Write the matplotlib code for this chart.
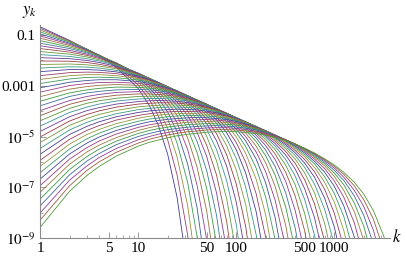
import colorsys
import numpy as np
import matplotlib
matplotlib.use("Agg")
import matplotlib.pyplot as plt
from matplotlib.ticker import FixedLocator, NullFormatter

# k values where each curve was read (shared grid)
k_grid = [1, 2, 3, 4, 6, 10, 13, 16, 20, 25, 32, 40, 50, 63, 80, 100, 125, 160,
          200, 250, 320, 400, 500, 630, 800, 1000, 1250, 1600, 2000, 2500, 3200, 4000]

# log10(y_k), top curve first; each list runs along k_grid
# until the curve leaves the bottom of the plot
log_y_curves = [
    [-0.67, -1.21, -1.56, -1.82, -2.27, -3.10, -3.77, -4.53, -5.69, -7.41, -10.3],
    [-0.73, -1.23, -1.55, -1.80, -2.22, -2.96, -3.53, -4.17, -5.12, -6.52, -8.88, -12.2],
    [-0.80, -1.25, -1.55, -1.79, -2.18, -2.84, -3.34, -3.88, -4.67, -5.81, -7.72, -10.4],
    [-0.87, -1.28, -1.56, -1.79, -2.15, -2.75, -3.19, -3.65, -4.31, -5.26, -6.81, -8.96, -12.2],
    [-0.95, -1.32, -1.58, -1.79, -2.13, -2.68, -3.07, -3.47, -4.03, -4.81, -6.08, -7.82, -10.5],
    [-1.03, -1.36, -1.60, -1.79, -2.11, -2.63, -2.98, -3.32, -3.80, -4.46, -5.51, -6.93, -9.05, -12.4],
    [-1.12, -1.41, -1.62, -1.80, -2.10, -2.58, -2.90, -3.21, -3.63, -4.18, -5.05, -6.22, -7.93, -10.6],
    [-1.22, -1.47, -1.66, -1.82, -2.10, -2.55, -2.84, -3.12, -3.48, -3.96, -4.69, -5.64, -7.04, -9.21, -12.7],
    [-1.32, -1.53, -1.70, -1.85, -2.11, -2.53, -2.79, -3.04, -3.37, -3.78, -4.40, -5.20, -6.34, -8.10, -10.9],
    [-1.42, -1.60, -1.75, -1.88, -2.12, -2.51, -2.76, -2.99, -3.28, -3.64, -4.17, -4.84, -5.78, -7.21, -9.48, -12.7],
    [-1.53, -1.67, -1.80, -1.92, -2.14, -2.50, -2.73, -2.94, -3.21, -3.53, -3.99, -4.55, -5.34, -6.51, -8.35, -11.0],
    [-1.65, -1.75, -1.86, -1.97, -2.16, -2.50, -2.71, -2.91, -3.15, -3.45, -3.85, -4.33, -4.99, -5.95, -7.45, -9.57, -12.8],
    [-1.77, -1.84, -1.93, -2.02, -2.19, -2.50, -2.70, -2.89, -3.11, -3.38, -3.73, -4.15, -4.71, -5.51, -6.74, -8.45, -11.0],
    [-1.89, -1.93, -2.00, -2.08, -2.23, -2.51, -2.70, -2.87, -3.08, -3.32, -3.64, -4.01, -4.49, -5.16, -6.17, -7.57, -9.66, -13.2],
    [-2.02, -2.03, -2.08, -2.15, -2.28, -2.53, -2.70, -2.86, -3.05, -3.28, -3.57, -3.90, -4.31, -4.88, -5.72, -6.86, -8.55, -11.4],
    [-2.16, -2.14, -2.17, -2.22, -2.33, -2.55, -2.71, -2.86, -3.04, -3.25, -3.52, -3.81, -4.17, -4.66, -5.36, -6.31, -7.68, -10.0],
    [-2.30, -2.25, -2.26, -2.30, -2.39, -2.58, -2.72, -2.86, -3.03, -3.22, -3.47, -3.74, -4.06, -4.48, -5.08, -5.86, -6.99, -8.88, -11.5],
    [-2.44, -2.36, -2.36, -2.38, -2.45, -2.62, -2.75, -2.87, -3.03, -3.21, -3.44, -3.68, -3.97, -4.34, -4.85, -5.51, -6.44, -7.97, -10.1],
    [-2.60, -2.48, -2.46, -2.47, -2.52, -2.66, -2.77, -2.89, -3.03, -3.20, -3.41, -3.64, -3.90, -4.23, -4.68, -5.23, -6.01, -7.26, -8.98, -11.6],
    [-2.75, -2.60, -2.56, -2.56, -2.60, -2.71, -2.81, -2.91, -3.04, -3.20, -3.40, -3.61, -3.85, -4.15, -4.53, -5.01, -5.66, -6.69, -8.09, -10.2],
    [-2.91, -2.73, -2.67, -2.66, -2.68, -2.77, -2.85, -2.94, -3.06, -3.20, -3.39, -3.58, -3.81, -4.08, -4.42, -4.84, -5.39, -6.25, -7.39, -9.08, -12.0],
    [-3.08, -2.86, -2.79, -2.76, -2.76, -2.83, -2.90, -2.98, -3.08, -3.21, -3.38, -3.57, -3.77, -4.02, -4.33, -4.70, -5.17, -5.89, -6.83, -8.21, -10.5],
    [-3.25, -2.99, -2.91, -2.87, -2.86, -2.90, -2.96, -3.02, -3.12, -3.23, -3.39, -3.56, -3.75, -3.98, -4.26, -4.59, -5.00, -5.61, -6.39, -7.52, -9.39, -12.0],
    [-3.43, -3.13, -3.03, -2.98, -2.95, -2.98, -3.02, -3.07, -3.15, -3.26, -3.40, -3.55, -3.73, -3.95, -4.21, -4.50, -4.86, -5.38, -6.04, -6.97, -8.50, -10.6],
    [-3.61, -3.28, -3.16, -3.10, -3.05, -3.06, -3.09, -3.13, -3.20, -3.29, -3.41, -3.56, -3.72, -3.92, -4.16, -4.43, -4.75, -5.20, -5.76, -6.53, -7.78, -9.49, -12.1],
    [-3.79, -3.42, -3.28, -3.22, -3.16, -3.14, -3.16, -3.19, -3.25, -3.33, -3.44, -3.57, -3.72, -3.91, -4.13, -4.37, -4.66, -5.06, -5.54, -6.19, -7.22, -8.61, -10.7],
    [-3.98, -3.58, -3.42, -3.34, -3.26, -3.23, -3.24, -3.26, -3.31, -3.37, -3.47, -3.59, -3.73, -3.90, -4.11, -4.33, -4.59, -4.95, -5.36, -5.91, -6.77, -7.92, -9.60, -12.2],
    [-4.18, -3.73, -3.56, -3.46, -3.37, -3.32, -3.32, -3.34, -3.37, -3.42, -3.51, -3.61, -3.74, -3.90, -4.09, -4.30, -4.54, -4.86, -5.22, -5.69, -6.41, -7.35, -8.73, -10.9],
    [-4.38, -3.89, -3.69, -3.59, -3.49, -3.42, -3.41, -3.41, -3.44, -3.48, -3.55, -3.64, -3.75, -3.90, -4.08, -4.27, -4.50, -4.79, -5.11, -5.52, -6.13, -6.91, -8.04, -9.77, -12.5],
    [-4.59, -4.05, -3.84, -3.72, -3.60, -3.52, -3.50, -3.50, -3.51, -3.54, -3.60, -3.68, -3.78, -3.91, -4.08, -4.26, -4.47, -4.73, -5.02, -5.38, -5.91, -6.56, -7.49, -8.90, -11.1],
    [-4.80, -4.22, -3.98, -3.86, -3.72, -3.62, -3.59, -3.58, -3.59, -3.61, -3.66, -3.72, -3.81, -3.93, -4.08, -4.25, -4.44, -4.69, -4.96, -5.28, -5.73, -6.28, -7.06, -8.21, -10.0],
    [-5.02, -4.39, -4.13, -3.99, -3.84, -3.72, -3.69, -3.67, -3.67, -3.68, -3.72, -3.77, -3.85, -3.95, -4.09, -4.25, -4.43, -4.66, -4.90, -5.19, -5.59, -6.06, -6.71, -7.66, -9.14, -11.2],
    [-5.24, -4.56, -4.29, -4.13, -3.97, -3.83, -3.79, -3.77, -3.75, -3.76, -3.78, -3.83, -3.89, -3.98, -4.11, -4.25, -4.42, -4.63, -4.86, -5.12, -5.48, -5.89, -6.44, -7.23, -8.44, -10.1],
    [-5.47, -4.74, -4.44, -4.28, -4.10, -3.94, -3.89, -3.86, -3.84, -3.84, -3.85, -3.89, -3.94, -4.02, -4.13, -4.26, -4.41, -4.62, -4.83, -5.07, -5.39, -5.75, -6.22, -6.88, -7.88, -9.26, -11.3],
    [-5.70, -4.92, -4.60, -4.42, -4.22, -4.05, -3.99, -3.96, -3.94, -3.92, -3.93, -3.95, -4.00, -4.06, -4.16, -4.28, -4.42, -4.60, -4.80, -5.03, -5.32, -5.64, -6.05, -6.61, -7.44, -8.56, -10.2],
    [-5.94, -5.11, -4.76, -4.57, -4.35, -4.17, -4.10, -4.06, -4.03, -4.01, -4.01, -4.02, -4.05, -4.11, -4.19, -4.30, -4.43, -4.60, -4.78, -4.99, -5.26, -5.55, -5.91, -6.39, -7.09, -8.02, -9.37, -11.7],
    [-6.18, -5.30, -4.92, -4.72, -4.49, -4.28, -4.20, -4.16, -4.12, -4.10, -4.09, -4.10, -4.12, -4.16, -4.23, -4.33, -4.44, -4.60, -4.77, -4.97, -5.22, -5.48, -5.80, -6.22, -6.81, -7.58, -8.70, -10.5],
    [-6.43, -5.49, -5.09, -4.87, -4.62, -4.40, -4.31, -4.27, -4.22, -4.19, -4.17, -4.17, -4.19, -4.22, -4.28, -4.36, -4.47, -4.61, -4.77, -4.95, -5.18, -5.43, -5.72, -6.08, -6.59, -7.24, -8.15, -9.66, -11.7],
    [-6.68, -5.69, -5.26, -5.02, -4.76, -4.52, -4.42, -4.37, -4.32, -4.29, -4.26, -4.25, -4.26, -4.29, -4.33, -4.40, -4.50, -4.63, -4.77, -4.94, -5.16, -5.38, -5.65, -5.98, -6.41, -6.96, -7.73, -8.96, -10.6],
    [-6.94, -5.89, -5.44, -5.18, -4.90, -4.64, -4.54, -4.48, -4.42, -4.38, -4.35, -4.34, -4.33, -4.35, -4.39, -4.45, -4.53, -4.65, -4.78, -4.94, -5.14, -5.35, -5.59, -5.89, -6.27, -6.75, -7.39, -8.40, -9.78],
    [-7.20, -6.09, -5.61, -5.34, -5.04, -4.76, -4.65, -4.58, -4.53, -4.48, -4.44, -4.42, -4.41, -4.42, -4.45, -4.50, -4.57, -4.67, -4.79, -4.94, -5.13, -5.33, -5.55, -5.82, -6.16, -6.57, -7.12, -7.96, -9.09, -10.8],
    [-7.47, -6.30, -5.79, -5.50, -5.18, -4.88, -4.76, -4.69, -4.63, -4.58, -4.53, -4.51, -4.49, -4.50, -4.52, -4.55, -4.61, -4.71, -4.81, -4.95, -5.12, -5.31, -5.52, -5.77, -6.08, -6.44, -6.90, -7.62, -8.54, -9.90],
    [-7.74, -6.51, -5.97, -5.67, -5.32, -5.00, -4.88, -4.80, -4.73, -4.68, -4.63, -4.60, -4.58, -4.57, -4.59, -4.62, -4.67, -4.74, -4.84, -4.96, -5.13, -5.30, -5.49, -5.72, -6.01, -6.33, -6.73, -7.34, -8.11, -9.22, -11.1],
    [-8.02, -6.72, -6.16, -5.83, -5.47, -5.13, -5.00, -4.91, -4.84, -4.77, -4.72, -4.69, -4.66, -4.65, -4.65, -4.68, -4.72, -4.79, -4.87, -4.98, -5.13, -5.29, -5.48, -5.69, -5.95, -6.24, -6.60, -7.12, -7.76, -8.68, -10.2],
    [-8.30, -6.94, -6.34, -6.00, -5.62, -5.26, -5.11, -5.02, -4.94, -4.87, -4.81, -4.78, -4.74, -4.73, -4.73, -4.74, -4.78, -4.83, -4.91, -5.01, -5.14, -5.29, -5.47, -5.67, -5.91, -6.17, -6.49, -6.94, -7.49, -8.25, -9.48],
    [-8.59, -7.16, -6.54, -6.18, -5.77, -5.38, -5.23, -5.14, -5.05, -4.97, -4.91, -4.87, -4.83, -4.81, -4.80, -4.81, -4.84, -4.88, -4.95, -5.04, -5.16, -5.30, -5.46, -5.65, -5.88, -6.12, -6.41, -6.80, -7.27, -7.91, -8.93, -10.3],
]

x_ticks = [1, 5, 10, 50, 100, 500, 1000]
x_tick_labels = ["1", "5", "10", "50", "100", "500", "1000"]
y_ticks = [1e-1, 1e-3, 1e-5, 1e-7, 1e-9]
y_tick_labels = ["0.1", "0.001", r"$10^{-5}$", r"$10^{-7}$", r"$10^{-9}$"]

plt.rcParams["font.family"] = ["Liberation Serif", "DejaVu Serif"]
plt.rcParams["mathtext.fontset"] = "stix"

axis_gray = "#8a8a8a"

fig = plt.figure(figsize=(4.07, 2.59), dpi=100)
ax = fig.add_axes([40 / 407, 21 / 259, 350 / 407, 213 / 259])

for i, log_y in enumerate(log_y_curves):
    # Mathematica's default plot colour cycle
    hue = (0.67 + 0.236068 * i) % 1.0
    color = colorsys.hsv_to_rgb(hue, 0.6, 0.6)
    ks = k_grid[:len(log_y)]
    ax.plot(ks, 10.0 ** np.array(log_y), color=color, lw=0.6)

ax.set_xscale("log")
ax.set_yscale("log")
ax.set_xlim(1, 3700)
ax.set_ylim(1e-9, 0.25)

ax.xaxis.set_major_locator(FixedLocator(x_ticks))
ax.set_xticklabels(x_tick_labels)
ax.xaxis.set_minor_locator(FixedLocator(
    [m * 10 ** e for e in range(0, 4) for m in (2, 3, 4, 6, 7, 8, 9)]))
ax.xaxis.set_minor_formatter(NullFormatter())

ax.yaxis.set_major_locator(FixedLocator(y_ticks))
ax.set_yticklabels(y_tick_labels)
ax.yaxis.set_minor_locator(FixedLocator([10.0 ** e for e in (-2, -4, -6, -8)]))
ax.yaxis.set_minor_formatter(NullFormatter())

for side in ("top", "right"):
    ax.spines[side].set_visible(False)
for side in ("left", "bottom"):
    ax.spines[side].set_color(axis_gray)
    ax.spines[side].set_linewidth(0.8)

ax.tick_params(which="major", direction="in", length=4, width=0.6,
               color=axis_gray, labelsize=11, pad=3)
ax.tick_params(which="minor", direction="in", length=2, width=0.5,
               color=axis_gray)

fig.text(30 / 407, 1 - 12 / 259, r"$y_k$", fontsize=12, ha="center", va="center")
fig.text(397 / 407, 1 - 237 / 259, r"$k$", fontsize=12, ha="center", va="center")

fig.savefig("out.png", dpi=100)
